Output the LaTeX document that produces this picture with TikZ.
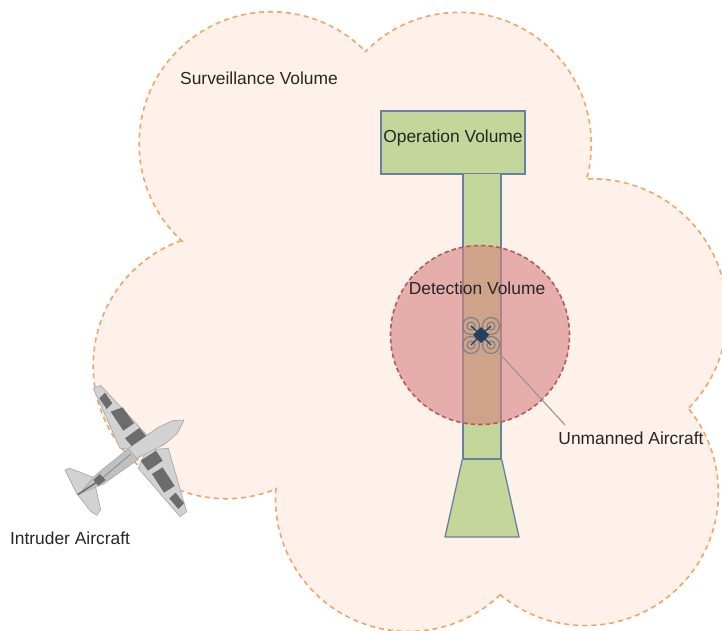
\documentclass[tikz,border=0pt]{standalone}
\usepackage{fontspec}
\setmainfont{Liberation Sans}
\usetikzlibrary{positioning}

\definecolor{cloudfill}{HTML}{FDF1E9}
\definecolor{clouddash}{HTML}{F0A468}
\definecolor{volfill}{HTML}{C5D69B}
\definecolor{volline}{HTML}{66829F}
\definecolor{detfill}{HTML}{D78280}
\definecolor{detline}{HTML}{B25A60}
\definecolor{dronedark}{HTML}{24405E}
\definecolor{dronegrey}{HTML}{76808C}
\definecolor{planelight}{HTML}{D2D2D2}
\definecolor{planemid}{HTML}{ABABAB}
\definecolor{planedark}{HTML}{6C6C6C}

\tikzset{
  lbl/.style={font=\fontsize{17.4}{20}\selectfont, text=black!85, inner sep=1pt},
  vol/.style={draw=volline, fill=volfill, line width=1.3pt, inner sep=0pt},
  rotor/.style={draw=dronegrey, line width=1.1pt, circle, inner sep=0pt},
  wing/.style={fill=planelight, draw=planemid, line width=0.7pt, line join=round},
  patch/.style={fill=planedark}
}

\begin{document}
\begin{tikzpicture}[x=1pt, y=-1pt]
\clip (0,0) rectangle (722,631);

% lobes of the surveillance volume
\coordinate (cuspa) at (365,52);
\coordinate (cuspb) at (183,242);
\coordinate (cuspc) at (586,179);
\coordinate (cuspd) at (688,408);
\coordinate (cuspe) at (502,593);
\coordinate (cuspf) at (276,489);
\draw[fill=cloudfill, draw=clouddash, line width=1.6pt, dash pattern=on 5pt off 4pt]
    (cuspb) arc[start angle=131.9, end angle=315.6, radius=132]
    -- (cuspa) arc[start angle=224.4, end angle=375.1, radius=132]
    -- (cuspc) arc[start angle=267.4, end angle=404.7, radius=135]
    -- (cuspd) arc[start angle=320.5, end angle=489.7, radius=133]
    -- (cuspe) arc[start angle=45.3, end angle=183.9, radius=133]
    -- (cuspf) arc[start angle=68, end angle=250.7, radius=133]
    -- cycle;

% flight corridor
\node[vol, minimum width=144pt, minimum height=63pt] (opbox) at (453,142.5) {};
\node[vol, minimum width=38pt, minimum height=285pt] (corridor) at (482,316) {};
\coordinate (flarel) at (445,537);
\coordinate (flarer) at (519,537);
\draw[vol, line join=round] (corridor.south west) -- (flarel) -- (flarer) -- (corridor.south east) -- cycle;

% detection volume
\node[circle, minimum size=179pt, inner sep=0pt, fill=detfill, fill opacity=0.6, draw=detline,
    line width=1.6pt, dash pattern=on 4.5pt off 3pt] (detection) at (480,335) {};

\node[lbl] (surveillance) at (259,78) {Surveillance Volume};
\node[lbl] (oplabel) at (453,138) {Operation Volume};
\node[lbl] (detlabel) at (477,288) {Detection Volume};
\node[lbl] (ualabel) at (631,438) {Unmanned Aircraft};
\node[lbl] (intruder) at (70,538) {Intruder Aircraft};

% unmanned aircraft
\node[circle, minimum size=50pt, inner sep=0pt] (drone) at (481,335) {};
\foreach \px/\py/\pn in {471/326/a, 491/326/b, 471/345/c, 491/345/d} {
  \node[rotor, minimum size=17pt] (rot\pn) at (\px,\py) {};
  \node[rotor, minimum size=8pt] at (\px,\py) {};
  \draw[dronedark, line width=1.3pt] (drone.center) -- (\px,\py);
}
\fill[dronedark] (481,327) -- (489,335) -- (481,343) -- (473,335) -- cycle;

\coordinate (leadend) at (565,425);
\draw[black!42, line width=1.1pt] (drone.-45) -- (leadend);

% intruder aircraft, numbers read off a 3x crop
\begin{scope}[shift={(40,370)}, x=0.3333pt, y=-0.3333pt]
\draw[wing] (75,300) -- (90,295) -- (160,322) -- (170,365) -- (182,420) -- (170,436) -- (152,424) -- (110,370) -- cycle;
\draw[wing] (160,55) -- (182,46) -- (325,200) -- (300,240) -- (240,235) -- cycle;
\draw[wing] (385,235) -- (440,425) -- (420,440) -- (295,295) -- (320,240) -- cycle;
\draw[wing, fill=planemid!75!white] (270,232) -- (190,296) -- (160,322) -- (118,372) -- (190,342) -- (295,268) -- cycle;
\draw[wing] (432,150) -- (398,152) -- (355,172) -- (265,235) -- (290,265) -- (375,222) -- (412,190) -- cycle;
\draw[planedark!80!white, line width=0.8pt] (190,322) -- (272,252);
\fill[patch] (178,85) -- (195,68) -- (217,100) -- (200,117) -- cycle;
\fill[patch] (212,125) -- (248,112) -- (282,160) -- (250,182) -- cycle;
\fill[patch] (255,205) -- (298,174) -- (318,198) -- (275,228) -- cycle;
\fill[patch] (302,272) -- (348,242) -- (368,272) -- (324,302) -- cycle;
\fill[patch] (336,312) -- (368,292) -- (404,348) -- (372,368) -- cycle;
\fill[patch] (388,385) -- (407,368) -- (432,400) -- (415,417) -- cycle;
\fill[patch] (160,330) -- (180,312) -- (197,330) -- (175,347) -- cycle;
\draw[planedark, line width=1.5pt] (113,374) -- (168,338);
\end{scope}
\end{tikzpicture}
\end{document}
